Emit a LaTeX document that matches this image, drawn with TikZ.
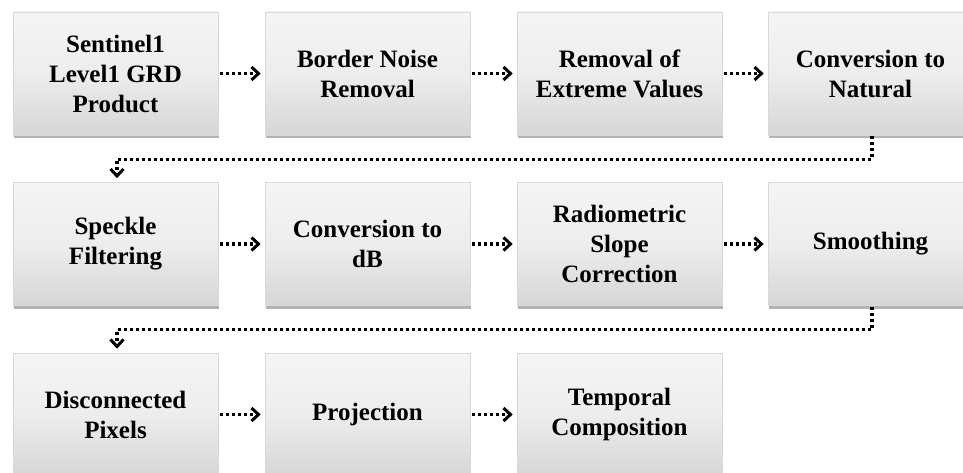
\documentclass[tikz,border=0pt]{standalone}
\usepackage{fontspec}
\setmainfont{Liberation Serif}
\usetikzlibrary{arrows.meta,shadows,calc}
\tikzset{
  stepbox/.style={draw=black!15, line width=0.6pt, top color=white!96!black, bottom color=black!16, middle color=white!93!black,
    minimum width=205pt, minimum height=123pt, inner sep=0pt, align=center,
    font=\fontsize{25}{30}\selectfont\bfseries, text=black,
    drop shadow={shadow xshift=1pt, shadow yshift=-3pt, fill=black!50, opacity=0.6}},
  link/.style={line width=3.2pt, dash pattern=on 3pt off 3pt, -{Straight Barb[length=7pt,width=13pt,line width=3pt]}},
}
\begin{document}
\begin{tikzpicture}[x=1pt,y=-1pt]
\useasboundingbox (0,0) rectangle (963,473);
\node[stepbox] (a1) at (115.5,73.5) {Sentinel1\\Level1 GRD\\Product};
\node[stepbox] (a2) at (367.5,73.5) {Border Noise\\Removal};
\node[stepbox] (a3) at (619.5,73.5) {Removal of\\Extreme Values};
\node[stepbox] (a4) at (870.5,73.5) {Conversion to\\Natural};
\node[stepbox] (b1) at (115.5,244) {Speckle\\Filtering};
\node[stepbox] (b2) at (367.5,244) {Conversion to\\dB};
\node[stepbox] (b3) at (619.5,244) {Radiometric\\Slope\\Correction};
\node[stepbox] (b4) at (870.5,244) {Smoothing};
\node[stepbox] (c1) at (115.5,414.5) {Disconnected\\Pixels};
\node[stepbox] (c2) at (367.5,414.5) {Projection};
\node[stepbox] (c3) at (619.5,414.5) {Temporal\\Composition};
\foreach \u/\v in {a1/a2,a2/a3,a3/a4,b1/b2,b2/b3,b3/b4,c1/c2,c2/c3}
  \draw[link] ($(\u.east)+(2,0)$) -- ($(\v.west)+(-4,0)$);
\coordinate (k1) at ($(a4.south)+(1.5,24)$);
\coordinate (k2) at ($(b1.north)+(1.5,-23)$);
\draw[link] ($(a4.south)+(1.5,1)$) -- (k1) -- (k1 -| k2) -- ($(b1.north)+(1.5,-4)$);
\coordinate (m1) at ($(b4.south)+(1.5,24)$);
\draw[link] ($(b4.south)+(1.5,1)$) -- (m1) -- (m1 -| k2) -- ($(c1.north)+(1.5,-4)$);
\end{tikzpicture}
\end{document}
